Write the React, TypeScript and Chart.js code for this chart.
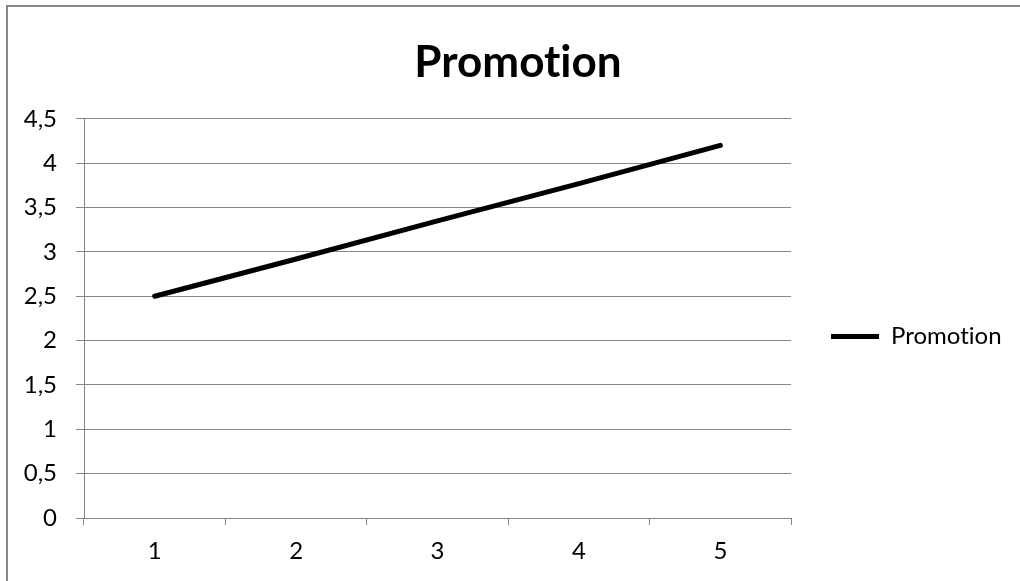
import React, { useEffect, useRef } from "react";
import { Chart, registerables } from "chart.js";

Chart.register(...registerables);

const categories = ["1", "2", "3", "4", "5"];
const promotionValues = [2.5, 2.92, 3.35, 3.77, 4.2];
const seriesName = "Promotion";
const chartTitle = "Promotion";
const yMin = 0;
const yMax = 4.5;
const yStep = 0.5;

const GRID = "#868686";
const FONT = "Lato, 'Open Sans', sans-serif";

const layoutTweaks = {
  id: "layoutTweaks",
  beforeDraw(chart: any) {
    try {
      chart.ctx.textRendering = "optimizeSpeed";
    } catch (e) {}
  },
  afterLayout(chart: any) {
    const l = chart.legend;
    if (l) {
      const dx = 30;
      const dy = 46;
      l.left += dx;
      l.right += dx;
      l.top += dy;
      l.bottom += dy;
    }
    const t = chart.titleBlock;
    if (t) {
      const tx = 27;
      t.left += tx;
      t.right += tx;
    }
  },
};

export default function App() {
  const ref = useRef<HTMLCanvasElement | null>(null);

  useEffect(() => {
    document.body.style.margin = "0";
    if (!ref.current) return;
    const chart = new Chart(ref.current, {
      type: "line",
      data: {
        labels: categories,
        datasets: [
          {
            label: seriesName,
            data: promotionValues,
            borderColor: "#000000",
            backgroundColor: "#000000",
            borderWidth: 5,
            borderCapStyle: "round",
            borderJoinStyle: "round",
            pointRadius: 0,
            pointHoverRadius: 0,
            tension: 0,
          },
        ],
      },
      options: {
        responsive: false,
        animation: false,
        layout: { padding: { left: 0, right: 38, top: 0, bottom: 0 } },
        plugins: {
          title: {
            display: true,
            text: chartTitle,
            color: "#000000",
            font: { family: FONT, size: 44, weight: "bold" },
            padding: { top: 36, bottom: 30 },
          },
          legend: {
            display: true,
            position: "right",
            labels: {
              color: "#000000",
              font: { family: FONT, size: 24 },
              boxWidth: 48,
              boxHeight: 5,
              padding: 10,
              generateLabels: (chart: any) => {
                const items = (Chart as any).defaults.plugins.legend.labels.generateLabels(chart);
                items.forEach((it: any) => {
                  it.lineWidth = 0;
                  it.fillStyle = "#000000";
                });
                return items;
              },
            },
          },
          tooltip: { enabled: false },
        },
        scales: {
          x: {
            type: "category",
            offset: true,
            grid: {
              display: true,
              offset: true,
              drawOnChartArea: false,
              drawTicks: true,
              tickLength: 7,
              color: GRID,
            },
            border: { display: true, color: GRID, width: 1 },
            ticks: {
              color: "#000000",
              font: { family: FONT, size: 24 },
              padding: 12,
              maxRotation: 0,
            },
            afterFit(scale: any) {
              scale.height = 63;
            },
          },
          y: {
            min: yMin,
            max: yMax,
            grid: {
              display: true,
              color: GRID,
              tickLength: 8,
              drawTicks: true,
            },
            border: { display: true, color: GRID, width: 1 },
            ticks: {
              stepSize: yStep,
              color: "#000000",
              font: { family: FONT, size: 24 },
              padding: 19,
              callback: (v: any) => String(Number(v)).replace(".", ","),
            },
            afterFit(scale: any) {
              scale.width = 84;
            },
          },
        },
      },
      plugins: [layoutTweaks],
    });
    return () => chart.destroy();
  }, []);

  return (
    <div style={{ position: "relative", width: 1020, height: 581, overflow: "hidden", background: "#ffffff" }}>
      <div
        style={{
          position: "absolute",
          left: 6,
          top: 5,
          width: 1200,
          height: 800,
          borderLeft: `2px solid ${GRID}`,
          borderTop: `2px solid ${GRID}`,
        }}
      />
      <canvas ref={ref} width={1020} height={581} style={{ position: "absolute", left: 0, top: 0, display: "block" }} />
    </div>
  );
}
